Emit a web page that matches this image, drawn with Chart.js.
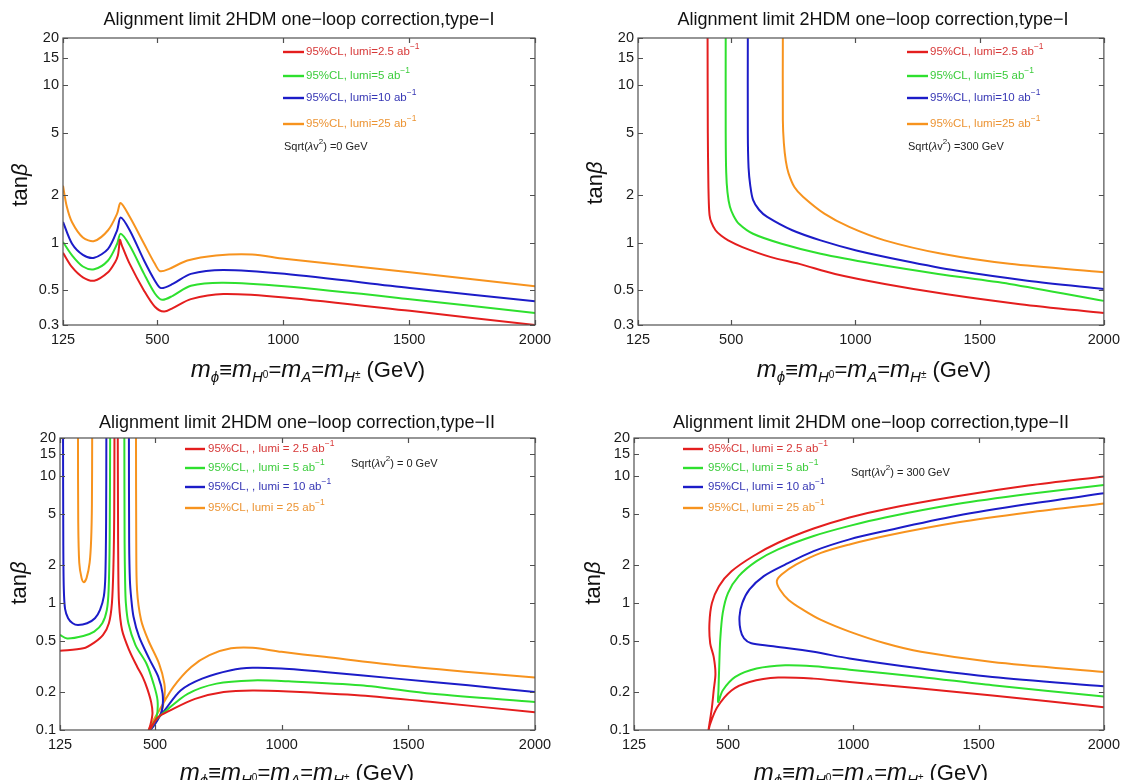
<!DOCTYPE html>
<html lang="en">
<head>
<meta charset="UTF-8">
<title>Alignment limit 2HDM one-loop correction</title>
<script src="https://cdn.jsdelivr.net/npm/chart.js@4.4.1/dist/chart.umd.min.js"></script>
<style>
  body { margin: 0; background: #fff; }
  .panel { position: absolute; width: 563px; height: 390px; }
</style>
</head>
<body>
<div class="panel" style="left:0;top:0"><canvas id="c1" width="563" height="390"></canvas></div>
<div class="panel" style="left:563px;top:0"><canvas id="c2" width="563" height="390"></canvas></div>
<div class="panel" style="left:0;top:390px"><canvas id="c3" width="563" height="390"></canvas></div>
<div class="panel" style="left:563px;top:390px"><canvas id="c4" width="563" height="390"></canvas></div>

<script>
// axis ticks
const xTicks = [125, 500, 1000, 1500, 2000];
const yTicksTypeI = [0.3, 0.5, 1, 2, 5, 10, 15, 20];
const yTicksTypeII = [0.1, 0.2, 0.5, 1, 2, 5, 10, 15, 20];

// legend texts
const lumiLabelsI = ['95%CL, lumi=2.5 ab', '95%CL, lumi=5 ab', '95%CL, lumi=10 ab', '95%CL, lumi=25 ab'];
const lumiLabelsII0 = ['95%CL, , lumi = 2.5 ab', '95%CL, , lumi = 5 ab', '95%CL, , lumi = 10 ab', '95%CL, lumi = 25 ab'];
const lumiLabelsII300 = ['95%CL, lumi = 2.5 ab', '95%CL, lumi = 5 ab', '95%CL, lumi = 10 ab', '95%CL, lumi = 25 ab'];

// [m_phi (GeV), tan beta]
// type-I, sqrt(lambda v^2) = 0
const p1Red = [[125,0.863],[161,0.699],[204,0.603],[249,0.574],[304,0.649],[332,0.752],[343,0.83],[348,0.95],[351,1.045],[358,0.97],[390,0.734],[447,0.496],[490,0.392],[526,0.365],[561,0.384],[633,0.438],[762,0.472],[1005,0.449],[1503,0.369],[2000,0.30]];
const p1Green = [[125,1.01],[161,0.83],[204,0.706],[249,0.678],[304,0.771],[340,0.985],[354,1.14],[390,0.961],[447,0.634],[490,0.476],[519,0.434],[561,0.46],[633,0.533],[762,0.557],[1005,0.528],[1503,0.438],[2000,0.357]];
const p1Blue = [[125,1.356],[161,0.985],[204,0.838],[249,0.802],[304,0.915],[340,1.2],[354,1.445],[390,1.2],[447,0.771],[490,0.574],[514,0.515],[561,0.547],[633,0.634],[762,0.672],[1005,0.634],[1503,0.515],[2000,0.424]];
const p1Orange = [[125,2.3],[140,1.7],[161,1.35],[204,1.08],[249,1.025],[304,1.2],[340,1.53],[354,1.79],[390,1.46],[447,0.985],[490,0.734],[511,0.659],[547,0.682],[619,0.771],[733,0.83],[876,0.842],[1005,0.79],[1503,0.649],[2000,0.528]];

// type-I, sqrt(lambda v^2) = 300 GeV
const p2Red = [[405,21],[406,5],[408,2.5],[410,1.8],[413,1.5],[420,1.35],[437,1.2],[459,1.11],[488,1.035],[545,0.938],[660,0.81],[774,0.734],[918,0.633],[1118,0.547],[1362,0.472],[1663,0.407],[2000,0.357]];
const p2Green = [[478,21],[478,5],[480,2.8],[485,2.1],[495,1.69],[510,1.48],[531,1.32],[588,1.14],[703,0.985],[860,0.85],[1075,0.734],[1333,0.633],[1620,0.547],[2000,0.427]];
const p2Blue = [[567,21],[567,5],[570,3.0],[577,2.3],[588,1.87],[612,1.62],[645,1.46],[746,1.2],[860,1.035],[1004,0.893],[1190,0.771],[1405,0.665],[1692,0.574],[2000,0.508]];
const p2Orange = [[708,21],[708,6],[712,4.3],[720,3.3],[731,2.76],[755,2.25],[789,1.96],[875,1.53],[975,1.26],[1118,1.035],[1348,0.85],[1620,0.734],[2000,0.65]];

// type-II, sqrt(lambda v^2) = 0 (left and right pieces)
const p3RedA = [[125,0.421],[217,0.44],[260,0.488],[295,0.561],[318,0.694],[330,1.0],[336,2.0],[339,5],[340,21]];
const p3RedB = [[353,21],[354,5],[355,2.0],[358,1.0],[370,0.614],[398,0.426],[430,0.314],[452,0.26],[470,0.21],[485,0.165],[490,0.135],[482,0.11],[472,0.095],[510,0.125],[558,0.142],[658,0.176],[771,0.199],[885,0.205],[1027,0.201],[1311,0.187],[1595,0.166],[2000,0.138]];
const p3GreenA = [[125,0.561],[153,0.527],[217,0.551],[260,0.596],[292,0.694],[310,0.885],[317,1.28],[321,3.18],[323,21]];
const p3GreenB = [[379,21],[380,3],[382,1.5],[385,1.0],[395,0.694],[423,0.467],[466,0.334],[494,0.232],[510,0.171],[506,0.126],[487,0.106],[472,0.095],[500,0.118],[544,0.142],[629,0.193],[743,0.232],[885,0.246],[1027,0.242],[1311,0.225],[1595,0.193],[2000,0.166]];
const p3BlueA = [[137,21],[138,3],[140,1.3],[145,0.9],[157,0.76],[175,0.694],[196,0.673],[232,0.694],[263,0.76],[283,0.885],[298,1.13],[304,1.63],[307,4.31],[308,21]];
const p3BlueB = [[397,21],[398,3],[401,1.5],[406,1.1],[415,0.784],[437,0.544],[480,0.355],[513,0.262],[530,0.193],[527,0.142],[501,0.112],[472,0.095],[500,0.115],[537,0.142],[601,0.205],[686,0.254],[800,0.296],[885,0.309],[999,0.305],[1169,0.287],[1453,0.254],[1737,0.225],[2000,0.199]];
const p3OrangeA = [[196,21],[197,4.31],[201,2.08],[210,1.58],[219,1.46],[230,1.58],[242,2.08],[248,3.18],[251,6],[252,21]];
const p3OrangeB = [[425,21],[426,3],[429,1.28],[445,0.737],[473,0.512],[516,0.334],[537,0.232],[537,0.182],[523,0.134],[494,0.108],[472,0.095],[490,0.115],[516,0.142],[572,0.218],[643,0.314],[715,0.389],[800,0.44],[885,0.445],[999,0.413],[1169,0.377],[1453,0.324],[1737,0.287],[2000,0.259]];

// type-II, sqrt(lambda v^2) = 300 GeV
const p4Red = [[2000,9.94],[1698,8.43],[1413,6.94],[1127,5.5],[985,4.73],[842,3.87],[700,2.99],[600,2.34],[514,1.78],[464,1.36],[436,1.0],[426,0.694],[429,0.482],[443,0.377],[450,0.278],[443,0.205],[436,0.151],[422,0.099],[420,0.093],[428,0.11],[457,0.151],[514,0.205],[586,0.239],[700,0.259],[842,0.254],[985,0.239],[1270,0.212],[1555,0.187],[2000,0.151]];
const p4Green = [[2000,8.53],[1698,7.24],[1413,6.03],[1127,4.73],[985,4.06],[842,3.38],[700,2.65],[614,2.14],[543,1.63],[500,1.2],[479,0.833],[469,0.512],[465,0.314],[462,0.205],[461,0.166],[479,0.205],[529,0.262],[614,0.305],[728,0.324],[842,0.318],[985,0.299],[1270,0.262],[1555,0.225],[2000,0.184]];
const p4Blue = [[2000,7.33],[1698,6.03],[1413,4.87],[1127,3.7],[985,3.18],[842,2.57],[728,2.01],[643,1.63],[586,1.28],[557,1.0],[546,0.784],[550,0.614],[564,0.527],[593,0.482],[671,0.459],[842,0.413],[985,0.366],[1270,0.305],[1555,0.262],[2000,0.221]];
const p4Orange = [[2000,6.1],[1698,5.18],[1413,4.31],[1127,3.38],[985,2.9],[871,2.49],[771,2.01],[714,1.68],[695,1.49],[707,1.28],[742,1.06],[800,0.885],[871,0.737],[985,0.596],[1127,0.482],[1270,0.413],[1555,0.344],[2000,0.287]];

const lineColors = ['#e41e1e', '#2ee02e', '#1c1cc8', '#f7931e'];
const textColors = ['#d73838', '#3ccc3c', '#3636b4', '#ec9434'];
const FONT = '"Liberation Sans", Arial, "DejaVu Sans", sans-serif';
Chart.defaults.font.family = FONT;

function xy(arr) { return arr.map(p => ({ x: p[0], y: p[1] })); }

// draws a row of text pieces: [text, size, dy, italic]
function drawParts(ctx, parts, x, y, align) {
    let w = 0;
    parts.forEach(p => { ctx.font = (p[3] ? 'italic ' : '') + p[1] + 'px ' + FONT; w += ctx.measureText(p[0]).width; });
    let cx = align === 'center' ? x - w / 2 : x;
    parts.forEach(p => {
        ctx.font = (p[3] ? 'italic ' : '') + p[1] + 'px ' + FONT;
        ctx.fillText(p[0], cx, y + p[2]);
        cx += ctx.measureText(p[0]).width;
    });
}

const xTitleParts = [['m',24,0,1],['ϕ',15,5,1],['≡',22,0,0],['m',24,0,1],['H',15,5,1],['0',10,1,0],['=',22,0,0],['m',24,0,1],['A',15,5,1],['=',22,0,0],['m',24,0,1],['H',15,5,1],['±',10,1,0],[' (GeV)',22,0,0]];

const decor = {
    id: 'decor',
    afterDraw(chart, args, o) {
        const ctx = chart.ctx, a = chart.chartArea;
        const xs = chart.scales.x, ys = chart.scales.y;
        ctx.save();
        ctx.strokeStyle = '#505050';
        ctx.lineWidth = 1.2;
        ctx.strokeRect(a.left, a.top, a.right - a.left, a.bottom - a.top);
        ctx.beginPath();
        ys.ticks.forEach(t => {
            const y = Math.round(ys.getPixelForValue(t.value)) + 0.5;
            ctx.moveTo(a.left, y); ctx.lineTo(a.left + 5, y);
            ctx.moveTo(a.right, y); ctx.lineTo(a.right - 5, y);
        });
        xs.ticks.forEach(t => {
            const x = Math.round(xs.getPixelForValue(t.value)) + 0.5;
            ctx.moveTo(x, a.bottom); ctx.lineTo(x, a.bottom - 5);
            ctx.moveTo(x, a.top); ctx.lineTo(x, a.top + 5);
        });
        ctx.stroke();

        ctx.fillStyle = '#111';
        ctx.textBaseline = 'alphabetic';
        drawParts(ctx, [[o.title, 18, 0, 0]], o.titleX, o.titleY, 'center');
        drawParts(ctx, xTitleParts, o.xTitleX, o.xTitleY, 'center');
        ctx.save();
        ctx.translate(o.yTitleX, o.yTitleY);
        ctx.rotate(-Math.PI / 2);
        drawParts(ctx, [['tan', 22, 0, 0], ['β', 22, 0, 1]], 0, 0, 'center');
        ctx.restore();

        // legend
        const lg = o.legend;
        ctx.textBaseline = 'middle';
        lg.labels.forEach((txt, i) => {
            const y = lg.rows[i];
            ctx.strokeStyle = lineColors[i];
            ctx.lineWidth = 2.4;
            ctx.beginPath();
            ctx.moveTo(lg.x0, y); ctx.lineTo(lg.x1, y);
            ctx.stroke();
            ctx.fillStyle = textColors[i];
            drawParts(ctx, [[txt, 11.5, 0, 0], ['−1', 8.5, -5, 0]], lg.tx, y, 'left');
        });
        ctx.fillStyle = '#222';
        drawParts(ctx, [['Sqrt(', 11, 0, 0], ['λ', 11, 0, 1], ['v', 11, 0, 0], ['2', 8, -5, 0], [o.note, 11, 0, 0]], lg.noteX, lg.noteY, 'left');
        ctx.restore();
    }
};

function makePanel(id, series, yTicks, cfg) {
    const datasets = series.map(s => ({
        data: xy(s.data),
        borderColor: lineColors[s.c],
        borderWidth: 2,
        showLine: true,
        pointRadius: 0,
        tension: 0.3,
        fill: false
    }));
    return new Chart(document.getElementById(id), {
        type: 'scatter',
        data: { datasets },
        options: {
            responsive: false,
            animation: false,
            events: [],
            layout: { padding: cfg.padding },
            plugins: { legend: { display: false }, tooltip: { enabled: false }, decor: cfg },
            scales: {
                x: {
                    type: 'linear', min: 125, max: 2000,
                    grid: { display: false, drawTicks: false }, border: { display: false },
                    afterBuildTicks: sc => { sc.ticks = xTicks.map(v => ({ value: v })); },
                    afterFit: sc => { sc.height = cfg.xHeight; },
                    ticks: { color: '#1a1a1a', font: { size: 14.5 }, padding: 6, maxRotation: 0, callback: v => String(v) }
                },
                y: {
                    type: 'logarithmic', min: yTicks[0], max: 20,
                    grid: { display: false, drawTicks: false }, border: { display: false },
                    afterBuildTicks: sc => { sc.ticks = yTicks.map(v => ({ value: v })); },
                    afterFit: sc => { sc.width = cfg.yWidth; },
                    ticks: { color: '#1a1a1a', font: { size: 14.5 }, padding: 4, callback: v => String(v) }
                }
            }
        },
        plugins: [decor]
    });
}

makePanel('c1', [
    { data: p1Red, c: 0 }, { data: p1Green, c: 1 }, { data: p1Blue, c: 2 }, { data: p1Orange, c: 3 }
], yTicksTypeI, {
    padding: { left: 0, right: 28, top: 38, bottom: 0 }, yWidth: 63, xHeight: 65,
    title: 'Alignment limit 2HDM one−loop correction,type−I', titleX: 299, titleY: 25,
    xTitleX: 308, xTitleY: 377, yTitleX: 27, yTitleY: 185,
    note: ') =0 GeV',
    legend: { labels: lumiLabelsI, x0: 283, x1: 304, tx: 306, rows: [52, 76, 98, 124], noteX: 284, noteY: 147 }
});

makePanel('c2', [
    { data: p2Red, c: 0 }, { data: p2Green, c: 1 }, { data: p2Blue, c: 2 }, { data: p2Orange, c: 3 }
], yTicksTypeI, {
    padding: { left: 0, right: 18, top: 38, bottom: 0 }, yWidth: 75, xHeight: 65,
    title: 'Alignment limit 2HDM one−loop correction,type−I', titleX: 310, titleY: 25,
    xTitleX: 311, xTitleY: 377, yTitleX: 39, yTitleY: 183,
    note: ') =300 GeV',
    legend: { labels: lumiLabelsI, x0: 344, x1: 365, tx: 367, rows: [52, 76, 98, 124], noteX: 345, noteY: 147 }
});

makePanel('c3', [
    { data: p3RedA, c: 0 }, { data: p3RedB, c: 0 }, { data: p3GreenA, c: 1 }, { data: p3GreenB, c: 1 },
    { data: p3BlueA, c: 2 }, { data: p3BlueB, c: 2 }, { data: p3OrangeA, c: 3 }, { data: p3OrangeB, c: 3 }
], yTicksTypeII, {
    padding: { left: 0, right: 28, top: 48, bottom: 0 }, yWidth: 60, xHeight: 50,
    title: 'Alignment limit 2HDM one−loop correction,type−II', titleX: 297, titleY: 38,
    xTitleX: 297, xTitleY: 390, yTitleX: 26, yTitleY: 193,
    note: ') = 0 GeV',
    legend: { labels: lumiLabelsII0, x0: 185, x1: 205, tx: 208, rows: [59, 78, 97, 118], noteX: 351, noteY: 74 }
});

makePanel('c4', [
    { data: p4Red, c: 0 }, { data: p4Green, c: 1 }, { data: p4Blue, c: 2 }, { data: p4Orange, c: 3 }
], yTicksTypeII, {
    padding: { left: 0, right: 18, top: 48, bottom: 0 }, yWidth: 71, xHeight: 50,
    title: 'Alignment limit 2HDM one−loop correction,type−II', titleX: 308, titleY: 38,
    xTitleX: 308, xTitleY: 390, yTitleX: 37, yTitleY: 193,
    note: ') = 300 GeV',
    legend: { labels: lumiLabelsII300, x0: 120, x1: 140, tx: 145, rows: [59, 78, 97, 118], noteX: 288, noteY: 83 }
});
</script>
</body>
</html>
